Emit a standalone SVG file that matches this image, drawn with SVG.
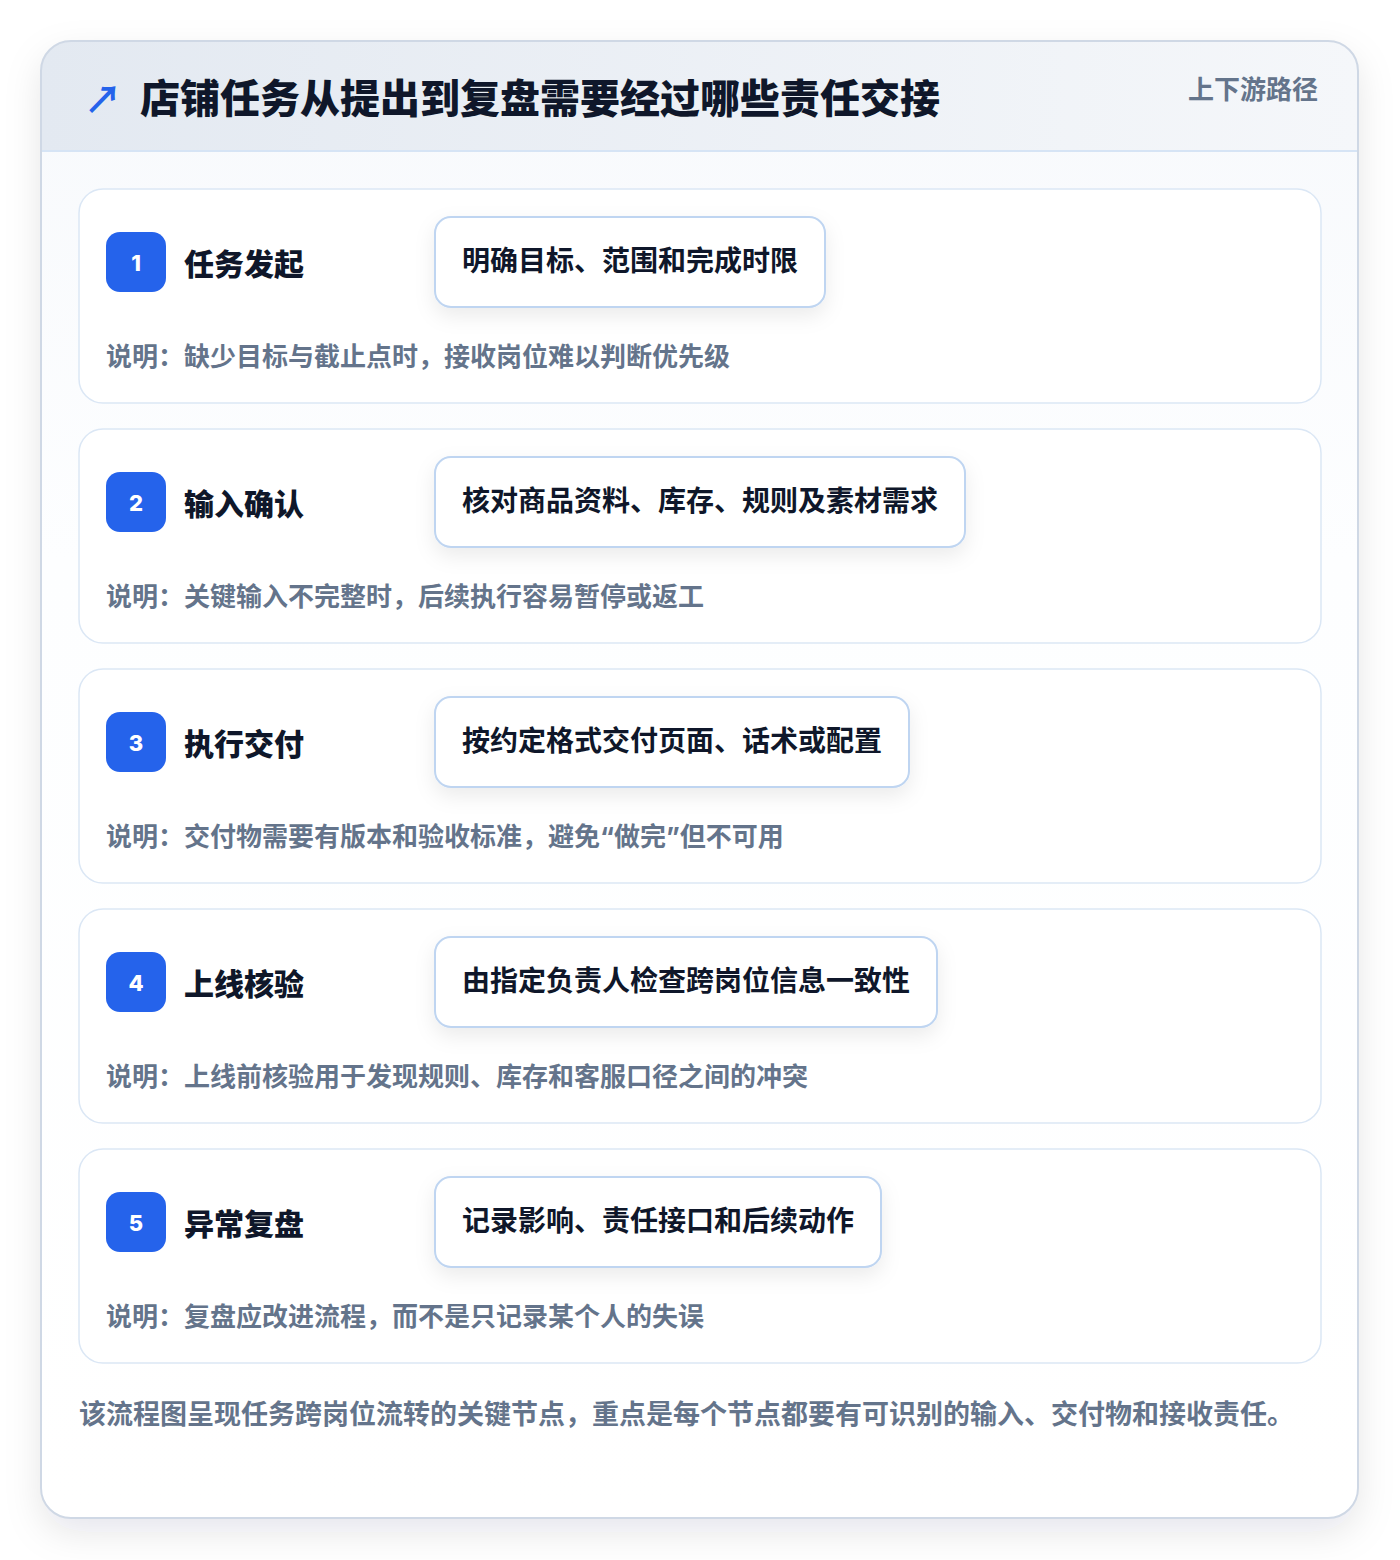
<svg xmlns="http://www.w3.org/2000/svg" width="1400" height="1560" viewBox="0 0 1400 1560">
  <defs>
    <linearGradient id="hdr" x1="0" y1="0" x2="1" y2="0">
      <stop offset="0" stop-color="#e3e9f1"/>
      <stop offset="1" stop-color="#f5f7fa"/>
    </linearGradient>
    <linearGradient id="body" x1="0" y1="0" x2="0" y2="1">
      <stop offset="0" stop-color="#f7f9fc"/>
      <stop offset="0.35" stop-color="#fdfeff"/>
      <stop offset="1" stop-color="#ffffff"/>
    </linearGradient>
    <clipPath id="cardClip">
      <rect x="41" y="41" width="1317" height="1477" rx="30"/>
    </clipPath>
    <filter id="outerShadow" x="-10%" y="-10%" width="120%" height="120%">
      <feDropShadow dx="0" dy="14" stdDeviation="18" flood-color="#0f172a" flood-opacity="0.10"/>
    </filter>
    <filter id="boxShadow" x="-20%" y="-40%" width="140%" height="190%">
      <feDropShadow dx="0" dy="8" stdDeviation="10" flood-color="#0f172a" flood-opacity="0.08"/>
    </filter>
    <style>
      .cjk { font-family: "Inter", "Noto Sans CJK SC", "Noto Sans", sans-serif; font-weight: 700; }
      .title { font-size: 40px; fill: #0f172a; font-weight: 800; }
      .tag { font-size: 26px; fill: #64748b; }
      .step { fill: #ffffff; stroke: #dbe7f5; stroke-width: 1.5; }
      .badge { fill: #2563eb; }
      .num { font-size: 22px; fill: #ffffff; font-weight: 800; }
      .stitle { font-size: 30px; fill: #0f172a; font-weight: 800; }
      .box { fill: #ffffff; stroke: #bfd5f1; stroke-width: 2; }
      .btext { font-size: 28px; fill: #0f172a; }
      .desc { font-size: 26px; fill: #64748b; }
      .foot { font-size: 27px; fill: #64748b; }
    </style>
  </defs>

  <rect width="1400" height="1560" fill="#ffffff"/>

  <g id="frame">
    <rect x="41" y="41" width="1317" height="1477" rx="30" fill="#ffffff" filter="url(#outerShadow)"/>
    <g clip-path="url(#cardClip)">
      <rect x="41" y="41" width="1317" height="1477" fill="url(#body)"/>
      <rect x="41" y="41" width="1317" height="110" fill="url(#hdr)"/>
      <line x1="41" y1="151" x2="1358" y2="151" stroke="#d6e4f5" stroke-width="2"/>
    </g>
    <rect x="41" y="41" width="1317" height="1477" rx="30" fill="none" stroke="#cfd8e5" stroke-width="2"/>
  </g>

  <g id="header">
    <text x="84" y="113" font-family="'Noto Sans CJK SC', 'DejaVu Sans', sans-serif" font-size="38" fill="#2563eb" font-weight="700">↗</text>
    <text x="140" y="113" class="cjk title">店铺任务从提出到复盘需要经过哪些责任交接</text>
    <text x="1318" y="99" class="cjk tag" text-anchor="end">上下游路径</text>
  </g>

  <g id="step1">
    <rect x="79" y="189" width="1242" height="214" rx="24" class="step"/>
    <rect x="106" y="232" width="60" height="60" rx="14" class="badge"/>
    <text x="136" y="270.5" class="cjk num" text-anchor="middle">1</text>
    <text x="184" y="275" class="cjk stitle">任务发起</text>
    <rect x="435" y="217" width="390" height="90" rx="16" class="box" filter="url(#boxShadow)"/>
    <text x="462" y="271" class="cjk btext">明确目标、范围和完成时限</text>
    <text x="106" y="366" class="cjk desc">说明：缺少目标与截止点时，接收岗位难以判断优先级</text>
  </g>

  <g id="step2">
    <rect x="79" y="429" width="1242" height="214" rx="24" class="step"/>
    <rect x="106" y="472" width="60" height="60" rx="14" class="badge"/>
    <text x="136" y="510.5" class="cjk num" text-anchor="middle">2</text>
    <text x="184" y="515" class="cjk stitle">输入确认</text>
    <rect x="435" y="457" width="530" height="90" rx="16" class="box" filter="url(#boxShadow)"/>
    <text x="462" y="511" class="cjk btext">核对商品资料、库存、规则及素材需求</text>
    <text x="106" y="606" class="cjk desc">说明：关键输入不完整时，后续执行容易暂停或返工</text>
  </g>

  <g id="step3">
    <rect x="79" y="669" width="1242" height="214" rx="24" class="step"/>
    <rect x="106" y="712" width="60" height="60" rx="14" class="badge"/>
    <text x="136" y="750.5" class="cjk num" text-anchor="middle">3</text>
    <text x="184" y="755" class="cjk stitle">执行交付</text>
    <rect x="435" y="697" width="474" height="90" rx="16" class="box" filter="url(#boxShadow)"/>
    <text x="462" y="751" class="cjk btext">按约定格式交付页面、话术或配置</text>
    <text x="106" y="846" class="cjk desc">说明：交付物需要有版本和验收标准，避免“做完”但不可用</text>
  </g>

  <g id="step4">
    <rect x="79" y="909" width="1242" height="214" rx="24" class="step"/>
    <rect x="106" y="952" width="60" height="60" rx="14" class="badge"/>
    <text x="136" y="990.5" class="cjk num" text-anchor="middle">4</text>
    <text x="184" y="995" class="cjk stitle">上线核验</text>
    <rect x="435" y="937" width="502" height="90" rx="16" class="box" filter="url(#boxShadow)"/>
    <text x="462" y="991" class="cjk btext">由指定负责人检查跨岗位信息一致性</text>
    <text x="106" y="1086" class="cjk desc">说明：上线前核验用于发现规则、库存和客服口径之间的冲突</text>
  </g>

  <g id="step5">
    <rect x="79" y="1149" width="1242" height="214" rx="24" class="step"/>
    <rect x="106" y="1192" width="60" height="60" rx="14" class="badge"/>
    <text x="136" y="1230.5" class="cjk num" text-anchor="middle">5</text>
    <text x="184" y="1235" class="cjk stitle">异常复盘</text>
    <rect x="435" y="1177" width="446" height="90" rx="16" class="box" filter="url(#boxShadow)"/>
    <text x="462" y="1231" class="cjk btext">记录影响、责任接口和后续动作</text>
    <text x="106" y="1326" class="cjk desc">说明：复盘应改进流程，而不是只记录某个人的失误</text>
  </g>

  <g id="connectors"></g>

  <g id="footer">
    <text x="79" y="1424" class="cjk foot">该流程图呈现任务跨岗位流转的关键节点，重点是每个节点都要有可识别的输入、交付物和接收责任。</text>
  </g>
</svg>
